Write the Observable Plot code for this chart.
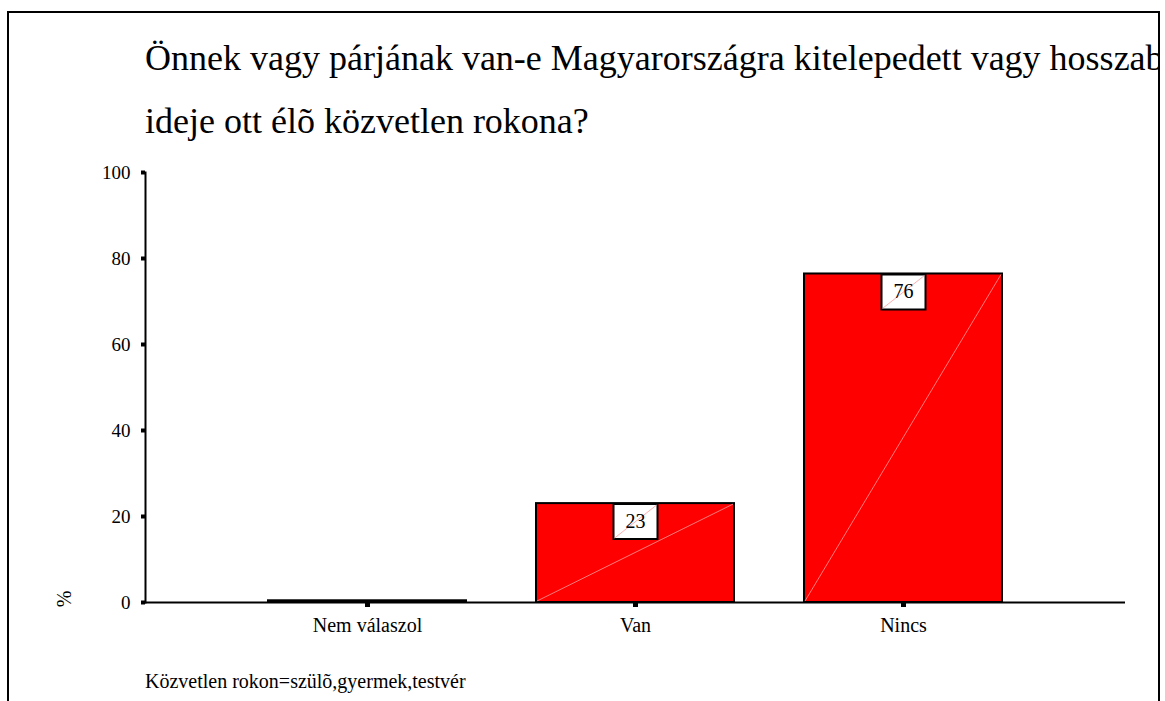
<!DOCTYPE html>
<html>
<head>
<meta charset="utf-8">
<script src="https://cdn.jsdelivr.net/npm/d3@7"></script>
<script src="https://cdn.jsdelivr.net/npm/@observablehq/plot@0.6"></script>
<style>
html, body { margin: 0; padding: 0; width: 1165px; height: 701px; overflow: hidden; background: #fff; }
body { font-family: "Liberation Serif", "Times New Roman", serif; color: #000; position: relative; }
#frame { position: absolute; left: 7px; top: 11px; width: 1149px; height: 760px; border: 2px solid #000; overflow: hidden; }
#title { position: absolute; left: 136px; top: 14px; font-size: 36px; line-height: 63px; white-space: nowrap; }
#chart { position: absolute; left: 0; top: 150px; }
#ylabel { position: absolute; left: 64px; top: 599px; font-size: 20px; line-height: 20px; transform: translate(-50%, -50%) rotate(-90deg); white-space: nowrap; }
#caption { position: absolute; left: 145px; top: 671px; font-size: 20px; line-height: 20px; white-space: nowrap; }
</style>
</head>
<body>
<div id="frame"><div id="title"></div></div>
<div id="chart"></div>
<div id="ylabel"></div>
<div id="caption"></div>
<script>
const titleLines = ["Önnek vagy párjának van-e Magyarországra kitelepedett vagy hosszabb", "ideje ott élõ közvetlen rokona?"];
const yAxisLabel = "%";
const captionText = "Közvetlen rokon=szülõ,gyermek,testvér";
const categories = ["Nem válaszol", "Van", "Nincs"];
const percents = [0.4, 23.0, 76.4];
const yTicks = [0, 20, 40, 60, 80, 100];

document.getElementById("title").innerHTML = titleLines.map(t => `<div>${t}</div>`).join("");
document.getElementById("ylabel").textContent = yAxisLabel;
document.getElementById("caption").textContent = captionText;

const data = categories.map((c, i) => ({category: c, value: percents[i]}));
const labeled = data.filter(d => d.value >= 1);

const boxSymbol = {draw(ctx) { ctx.moveTo(-22, -17.5); ctx.lineTo(22, -17.5); ctx.lineTo(22, 17.5); ctx.lineTo(-22, 17.5); ctx.closePath(); }};
const slashSymbol = {draw(ctx) { ctx.moveTo(-21, 16.5); ctx.lineTo(21, -16.5); }};

const chart = Plot.plot({
  width: 1165,
  height: 500,
  marginTop: 22,
  marginBottom: 48,
  marginLeft: 145,
  marginRight: 40,
  style: {fontFamily: "Liberation Serif", fontSize: "19px", color: "#000", background: "transparent", overflow: "visible"},
  x: {domain: categories, range: [233, 1037], paddingInner: 0.26, paddingOuter: 0.13, label: null},
  y: {domain: [0, 100], ticks: yTicks, label: null},
  marks: [
    Plot.barY(data, {x: "category", y: "value", fill: "#ff0000", stroke: "#000", strokeWidth: 2}),
    Plot.ruleY([0], {stroke: "#000", strokeWidth: 2}),
    Plot.frame({anchor: "left", stroke: "#000", strokeWidth: 2}),
    Plot.axisY({ticks: yTicks, tickSize: 4, tickPadding: 11, strokeWidth: 4, label: null, fontSize: 19}),
    Plot.axisX({tickSize: 5, tickPadding: 10, strokeWidth: 5, label: null, fontSize: 20}),
    Plot.dot(labeled, {x: "category", y: "value", dy: 18, symbol: boxSymbol, r: 5, fill: "#fff", stroke: "#000", strokeWidth: 2}),
    Plot.dot(labeled, {x: "category", y: "value", dy: 18, symbol: slashSymbol, r: 5, fill: "none", stroke: "#ff9a9a", strokeWidth: 0.8}),
    Plot.text(labeled, {x: "category", y: "value", dy: 18, text: d => String(Math.round(d.value)), fontSize: 20, fill: "#000"})
  ]
});
document.getElementById("chart").appendChild(chart);

// thin diagonal streak inside each bar, taken from the rendered bar geometry
const barG = chart.querySelector('g[aria-label="bar"]');
if (barG) {
  const ns = "http://www.w3.org/2000/svg";
  const g = document.createElementNS(ns, "g");
  if (barG.getAttribute("transform")) g.setAttribute("transform", barG.getAttribute("transform"));
  barG.querySelectorAll("rect").forEach(r => {
    const x = +r.getAttribute("x"), y = +r.getAttribute("y"), w = +r.getAttribute("width"), h = +r.getAttribute("height");
    if (h < 4) return;
    const l = document.createElementNS(ns, "line");
    l.setAttribute("x1", x + 1); l.setAttribute("y1", y + h - 1);
    l.setAttribute("x2", x + w - 1); l.setAttribute("y2", y + 1);
    l.setAttribute("stroke", "#ff9a9a"); l.setAttribute("stroke-width", 0.8);
    g.appendChild(l);
  });
  barG.after(g);
}
</script>
</body>
</html>
